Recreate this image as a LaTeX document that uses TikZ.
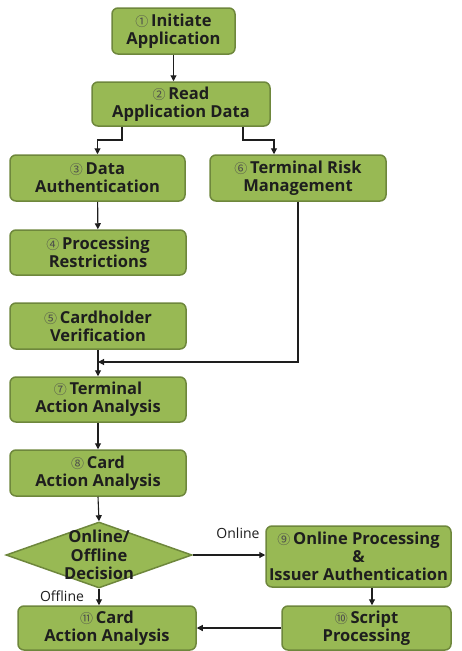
\documentclass[tikz,border=0pt]{standalone}
\usepackage{fontspec}
\setmainfont{Open Sans}
\newfontfamily\circfont{Noto Sans CJK KR}
\usetikzlibrary{arrows.meta,shapes.geometric}
\definecolor{stepfill}{RGB}{152,185,84}
\definecolor{stepedge}{RGB}{110,135,60}
\definecolor{ink}{RGB}{30,30,30}
\newcommand{\cn}[1]{{\circfont\fontsize{13}{13}\selectfont\mdseries\color{black!70}#1}\,}
\begin{document}
\begin{tikzpicture}[x=1pt,y=-1pt,
  steptext/.style={align=center, inner sep=0pt,
    font=\fontsize{16.5}{18}\selectfont\bfseries, text=ink},
  stepbox/.style={steptext, draw=stepedge, line width=1.5pt, fill=stepfill, rounded corners=6pt},
  decide/.style={draw=stepedge, line width=1.5pt, fill=stepfill,
    diamond, inner sep=0pt, minimum width=186pt, minimum height=66pt},
  link/.style={line width=1.1pt, ink, -{Triangle[length=6pt,width=6pt]}},
  lbl/.style={font=\fontsize{14}{16}\selectfont, text=ink}
]
\useasboundingbox (0,0) rectangle (462,651);

\node[stepbox, minimum width=123pt, minimum height=46pt] (n1) at (173.5,31) {\cn{①}Initiate\\Application};
\node[stepbox, minimum width=178pt, minimum height=44pt] (n2) at (181,104) {\cn{②}Read\\Application Data};
\node[stepbox, minimum width=175pt, minimum height=46pt] (n3) at (97.5,178) {\cn{③}Data\\Authentication};
\node[stepbox, minimum width=176pt, minimum height=46pt] (n6) at (298,178) {\cn{⑥}Terminal Risk\\Management};
\node[stepbox, minimum width=176pt, minimum height=45pt] (n4) at (98,252.5) {\cn{④}Processing\\Restrictions};
\node[stepbox, minimum width=176pt, minimum height=46pt] (n5) at (98,326) {\cn{⑤}Cardholder\\Verification};
\node[stepbox, minimum width=176pt, minimum height=45pt] (n7) at (98,399.5) {\cn{⑦}Terminal\\Action Analysis};
\node[stepbox, minimum width=176pt, minimum height=46pt] (n8) at (98,473) {\cn{⑧}Card\\Action Analysis};
\node[decide] (d) at (99,555) {};
\node[steptext, font=\fontsize{16.5}{18.5}\selectfont\bfseries] (dt) at (d.center) {Online/\\Offline\\Decision};
\node[stepbox, minimum width=185pt, minimum height=61pt] (n9) at (358.5,556.5) {\cn{⑨}Online Processing\\\&\\Issuer Authentication};
\node[stepbox, minimum width=169pt, minimum height=44pt] (n10) at (366.5,628) {\cn{⑩}Script\\Processing};
\node[stepbox, minimum width=178pt, minimum height=44pt] (n11) at (107,628) {\cn{⑪}Card\\Action Analysis};

\coordinate (j6) at (298,362);
\coordinate (j5) at (98,362);

\draw[link] (n1.south) -- (n1.south |- n2.north);
\draw[link] (n2.south -| 122,0) |- (97.5,140) -- (n3.north);
\draw[link] (n2.south -| 243,0) |- (274,140) -- (n6.north -| 274,0);
\draw[link] (n3) -- (n4);
\draw[link] (n6.south) -- (j6) -- (j5);
\draw[link] (n5) -- (n7);
\draw[link] (n7) -- (n8);
\draw[link] (n8.south) -- (d.north);
\draw[link] (d.east) -- (n9.west |- d.east);
\draw[link] (n9.south -| 372,0) -- (n10.north -| 372,0);
\draw[link] (n10.west) -- (n11.east);
\draw[link] (d.south) -- (n11.north -| d.south);

\node[lbl] (on) at (238,533) {Online};
\node[lbl] (off) at (62,596) {Offline};
\end{tikzpicture}
\end{document}
